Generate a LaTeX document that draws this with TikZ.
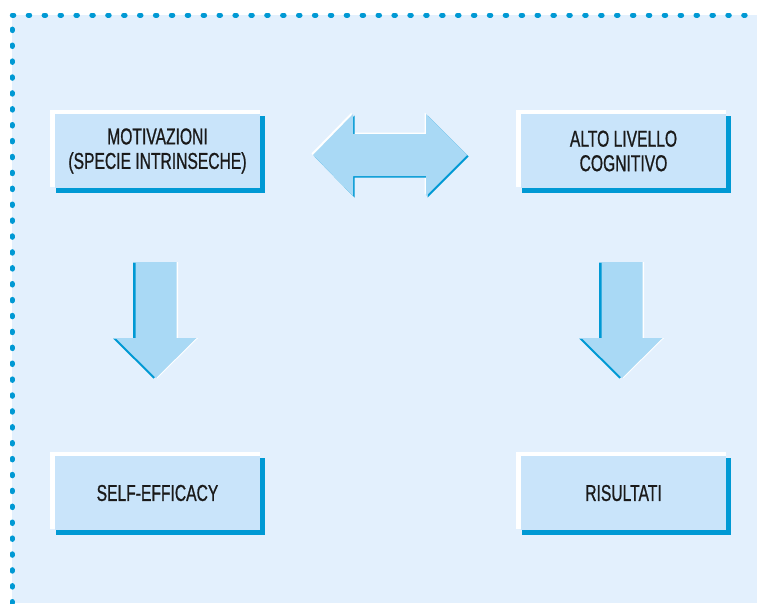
\documentclass[tikz,border=0pt]{standalone}
\usepackage{fontspec}
\setmainfont{Liberation Sans}[FakeStretch=0.68, FakeBold=0.8]
\usetikzlibrary{calc,backgrounds}
\definecolor{panelbg}{HTML}{E3F0FD}
\definecolor{boxfill}{HTML}{C9E4FA}
\definecolor{arrowfill}{HTML}{A9D9F5}
\definecolor{edgeblue}{HTML}{0099D4}
\definecolor{textgray}{HTML}{1A1A1A}
\begin{document}
\begin{tikzpicture}[x=1pt,y=-1pt,
    box/.style={fill=boxfill, minimum width=205pt, minimum height=74pt,
      inner sep=0pt, align=center, text=textgray,
      font=\fontsize{23}{24.5}\selectfont}]
  \useasboundingbox (0,0) rectangle (757,603);

  % Boxes
  \node[box] (motiv) at (157.5,151) {MOTIVAZIONI\\(SPECIE INTRINSECHE)};
  \node[box] (alto) at (623.5,151) {ALTO LIVELLO\\COGNITIVO};
  \node[box] (self) at (157.5,493) {SELF-EFFICACY};
  \node[box] (risult) at (623.5,493) {RISULTATI};

  % Panel, frame and box edges
  \begin{pgfonlayer}{background}
    \fill[panelbg] (12,15) rectangle (757,603);
    \draw[edgeblue, line width=5pt, line cap=round, dash pattern=on 1.5pt off 14.4pt]
      (12,603) -- (12,15) -- (757,15);
    \foreach \b in {motiv,alto,self,risult}{
      \fill[edgeblue] ($(\b.north west)+(1pt,-2pt)$) rectangle ($(\b.south east)+(5pt,-5pt)$);
      \fill[white] ($(\b.north west)+(-5pt,4pt)$) rectangle ($(\b.south east)+(0pt,1pt)$);
    }
  \end{pgfonlayer}

  % Double arrow
  \def\dblarrow{(313,155) -- (353,114) -- (353,134) -- (426,134) -- (426,114)
    -- (467,155) -- (426,196) -- (426,176) -- (353,176) -- (353,196) -- cycle}
  \fill[white] [shift={(-1.5,-1.5)}] \dblarrow;
  \fill[edgeblue] [shift={(1.5,1.5)}] \dblarrow;
  \fill[arrowfill] \dblarrow;

  % Down arrows
  \foreach \cx in {156,622}{
    \def\downarrow{(\cx-20.5,262) -- (\cx+20.5,262) -- (\cx+20.5,338) -- (\cx+40.5,338)
      -- (\cx,378) -- (\cx-40.5,338) -- (\cx-20.5,338) -- cycle}
    \fill[white] [shift={(1.5,0)}] \downarrow;
    \fill[edgeblue] [shift={(-2.5,0.5)}] \downarrow;
    \fill[arrowfill] \downarrow;
  }
\end{tikzpicture}
\end{document}
